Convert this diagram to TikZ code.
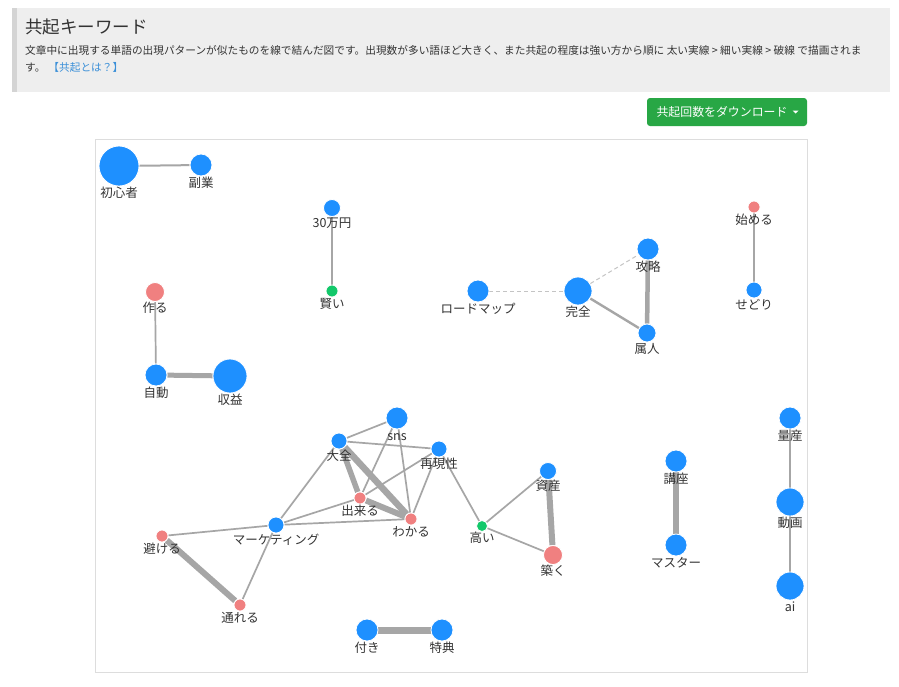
\documentclass[tikz,border=0pt]{standalone}
\usepackage{fontspec}
\newfontfamily\jp{Noto Sans CJK JP}
\usetikzlibrary{backgrounds}
\definecolor{kwblue}{HTML}{1E90FF}
\definecolor{kwred}{HTML}{F08080}
\definecolor{kwgreen}{HTML}{12C86A}
\definecolor{edgegray}{HTML}{A6A6A6}
\definecolor{dashgray}{HTML}{C4C4C4}
\definecolor{txtgray}{HTML}{333333}
\definecolor{linkblue}{HTML}{3A8FD8}
\definecolor{btngreen}{HTML}{28A745}
\definecolor{headbg}{HTML}{EEEEEE}
\definecolor{headbar}{HTML}{D4D4D4}
\definecolor{framegray}{HTML}{DDDDDD}
\tikzset{
    kw/.style 2 args={circle, fill=#1, draw=white, line width=0.8pt, inner sep=0pt, minimum size=#2},
    kwB/.style={kw={kwblue}{#1}},
    kwR/.style={kw={kwred}{#1}},
    kwG/.style={kw={kwgreen}{#1}},
    every label/.style={font=\jp\fontsize{12.5}{13}\selectfont, text=txtgray, inner sep=0pt, text height=10.5pt, text depth=2pt},
    barS/.style={draw=edgegray, line width=#1},
    barS/.default=1.7pt,
    barT/.style={draw=edgegray, line width=#1},
    barT/.default=5.5pt,
    barD/.style={draw=dashgray, line width=1pt, dash pattern=on 4pt off 3pt},
    headtxt/.style={anchor=west, inner sep=0pt, text=txtgray}
}
\begin{document}
\begin{tikzpicture}[x=1pt, y=-1pt]
    \useasboundingbox (0,0) rectangle (899,686);
    % header
    \fill[headbg] (12,8) rectangle (890,92);
    \fill[headbar] (12,8) rectangle (17,92);
    \node[headtxt, font=\jp\fontsize{17.5}{20}\selectfont] (title) at (25,27) {共起キーワード};
    \node[headtxt, font=\jp\fontsize{10.68}{12}\selectfont] (desc1) at (25,50) {文章中に出現する単語の出現パターンが似たものを線で結んだ図です。出現数が多い語ほど大きく、また共起の程度は強い方から順に 太い実線 > 細い実線 > 破線 で描画されま};
    \node[headtxt, font=\jp\fontsize{10.68}{12}\selectfont] (desc2) at (25,67) {す。\hspace{3pt}\textcolor{linkblue}{【共起とは？】}};
    % download button
    \fill[btngreen, rounded corners=3pt] (647,98) rectangle (807,126);
    \node[text=white, inner sep=0pt, font=\jp\fontsize{11.9}{13}\selectfont] (dl) at (722,112) {共起回数をダウンロード};
    \fill[white] (792.5,110.5) -- (798.5,110.5) -- (795.5,113.5) -- cycle;
    % frame
    \draw[framegray, line width=0.8pt] (95,139) rectangle (807,672);

    % keywords
    \node[kwB=40pt, label=below:初心者] (shoshin) at (119,166) {};
    \node[kwB=22pt, label=below:副業] (fukugyo) at (201,165) {};
    \node[kwB=17pt, label=below:30万円] (man30) at (332,208) {};
    \node[kwG=12pt, label=below:賢い] (kashikoi) at (332,291) {};
    \node[kwR=19pt, label=below:作る] (tsukuru) at (155,292) {};
    \node[kwB=22pt, label=below:自動] (jido) at (156,375) {};
    \node[kwB=34pt, label=below:収益] (shueki) at (230,376) {};
    \node[kwB=22pt, label=below:ロードマップ] (roadmap) at (478,291) {};
    \node[kwB=28pt, label=below:完全] (kanzen) at (578,291) {};
    \node[kwB=22pt, label=below:攻略] (koryaku) at (648,249) {};
    \node[kwB=18pt, label=below:属人] (zokujin) at (647,333) {};
    \node[kwR=12pt, label=below:始める] (hajimeru) at (754,207) {};
    \node[kwB=16pt, label=below:せどり] (sedori) at (754,290) {};
    \node[kwB=22pt, label=below:量産] (ryosan) at (790,418) {};
    \node[kwB=28pt, label=below:動画] (doga) at (790,502) {};
    \node[kwB=28pt, label=below:ai] (ai) at (790,586) {};
    \node[kwB=22pt, label=below:sns] (sns) at (397,418) {};
    \node[kwB=16pt, label=below:大全] (taizen) at (339,441) {};
    \node[kwB=16pt, label=below:再現性] (saigen) at (439,449) {};
    \node[kwR=12pt, label=below:出来る] (dekiru) at (360,498) {};
    \node[kwR=12pt, label=below:わかる] (wakaru) at (411,519) {};
    \node[kwB=16pt, label=below:マーケティング] (marketing) at (276,525) {};
    \node[kwG=11pt, label=below:高い] (takai) at (482,526) {};
    \node[kwR=12pt, label=below:避ける] (sakeru) at (162,536) {};
    \node[kwR=12pt, label=below:通れる] (toreru) at (240,605) {};
    \node[kwB=22pt, label=below:付き] (tsuki) at (367,630) {};
    \node[kwB=22pt, label=below:特典] (tokuten) at (442,630) {};
    \node[kwB=17pt, label=below:資産] (shisan) at (548,471) {};
    \node[kwR=19pt, label=below:築く] (kizuku) at (553,555) {};
    \node[kwB=22pt, label=below:講座] (koza) at (676,461) {};
    \node[kwB=22pt, label=below:マスター] (master) at (676,545) {};

    % co-occurrence edges
    \begin{scope}[on background layer]
    \fill[white] (0,0) rectangle (899,686);
    \draw[barS=2pt] (shoshin) -- (fukugyo);
    \draw[barS] (man30) -- (kashikoi);
    \draw[barS] (tsukuru) -- (jido);
    \draw[barT=5pt] (jido) -- (shueki);
    \draw[barD] (roadmap) -- (kanzen);
    \draw[barD] (kanzen) -- (koryaku);
    \draw[barS=2.4pt] (kanzen) -- (zokujin);
    \draw[barT=4.5pt] (koryaku) -- (zokujin);
    \draw[barS] (hajimeru) -- (sedori);
    \draw[barS] (ryosan) -- (doga);
    \draw[barS] (doga) -- (ai);
    \draw[barS] (taizen) -- (sns);
    \draw[barS] (taizen) -- (saigen);
    \draw[barT=5.5pt] (taizen) -- (dekiru);
    \draw[barT=6.5pt] (taizen) -- (wakaru);
    \draw[barS] (taizen) -- (marketing);
    \draw[barS] (sns) -- (dekiru);
    \draw[barS] (sns) -- (wakaru);
    \draw[barS] (saigen) -- (dekiru);
    \draw[barS] (saigen) -- (wakaru);
    \draw[barS] (saigen) -- (takai);
    \draw[barT=6pt] (dekiru) -- (wakaru);
    \draw[barS] (dekiru) -- (marketing);
    \draw[barS] (wakaru) -- (marketing);
    \draw[barS] (marketing) -- (sakeru);
    \draw[barS] (marketing) -- (toreru);
    \draw[barT=6pt] (sakeru) -- (toreru);
    \draw[barS] (takai) -- (shisan);
    \draw[barS] (takai) -- (kizuku);
    \draw[barT=6pt] (shisan) -- (kizuku);
    \draw[barT=6pt] (koza) -- (master);
    \draw[barT=7pt] (tsuki) -- (tokuten);
    \end{scope}
\end{tikzpicture}
\end{document}
